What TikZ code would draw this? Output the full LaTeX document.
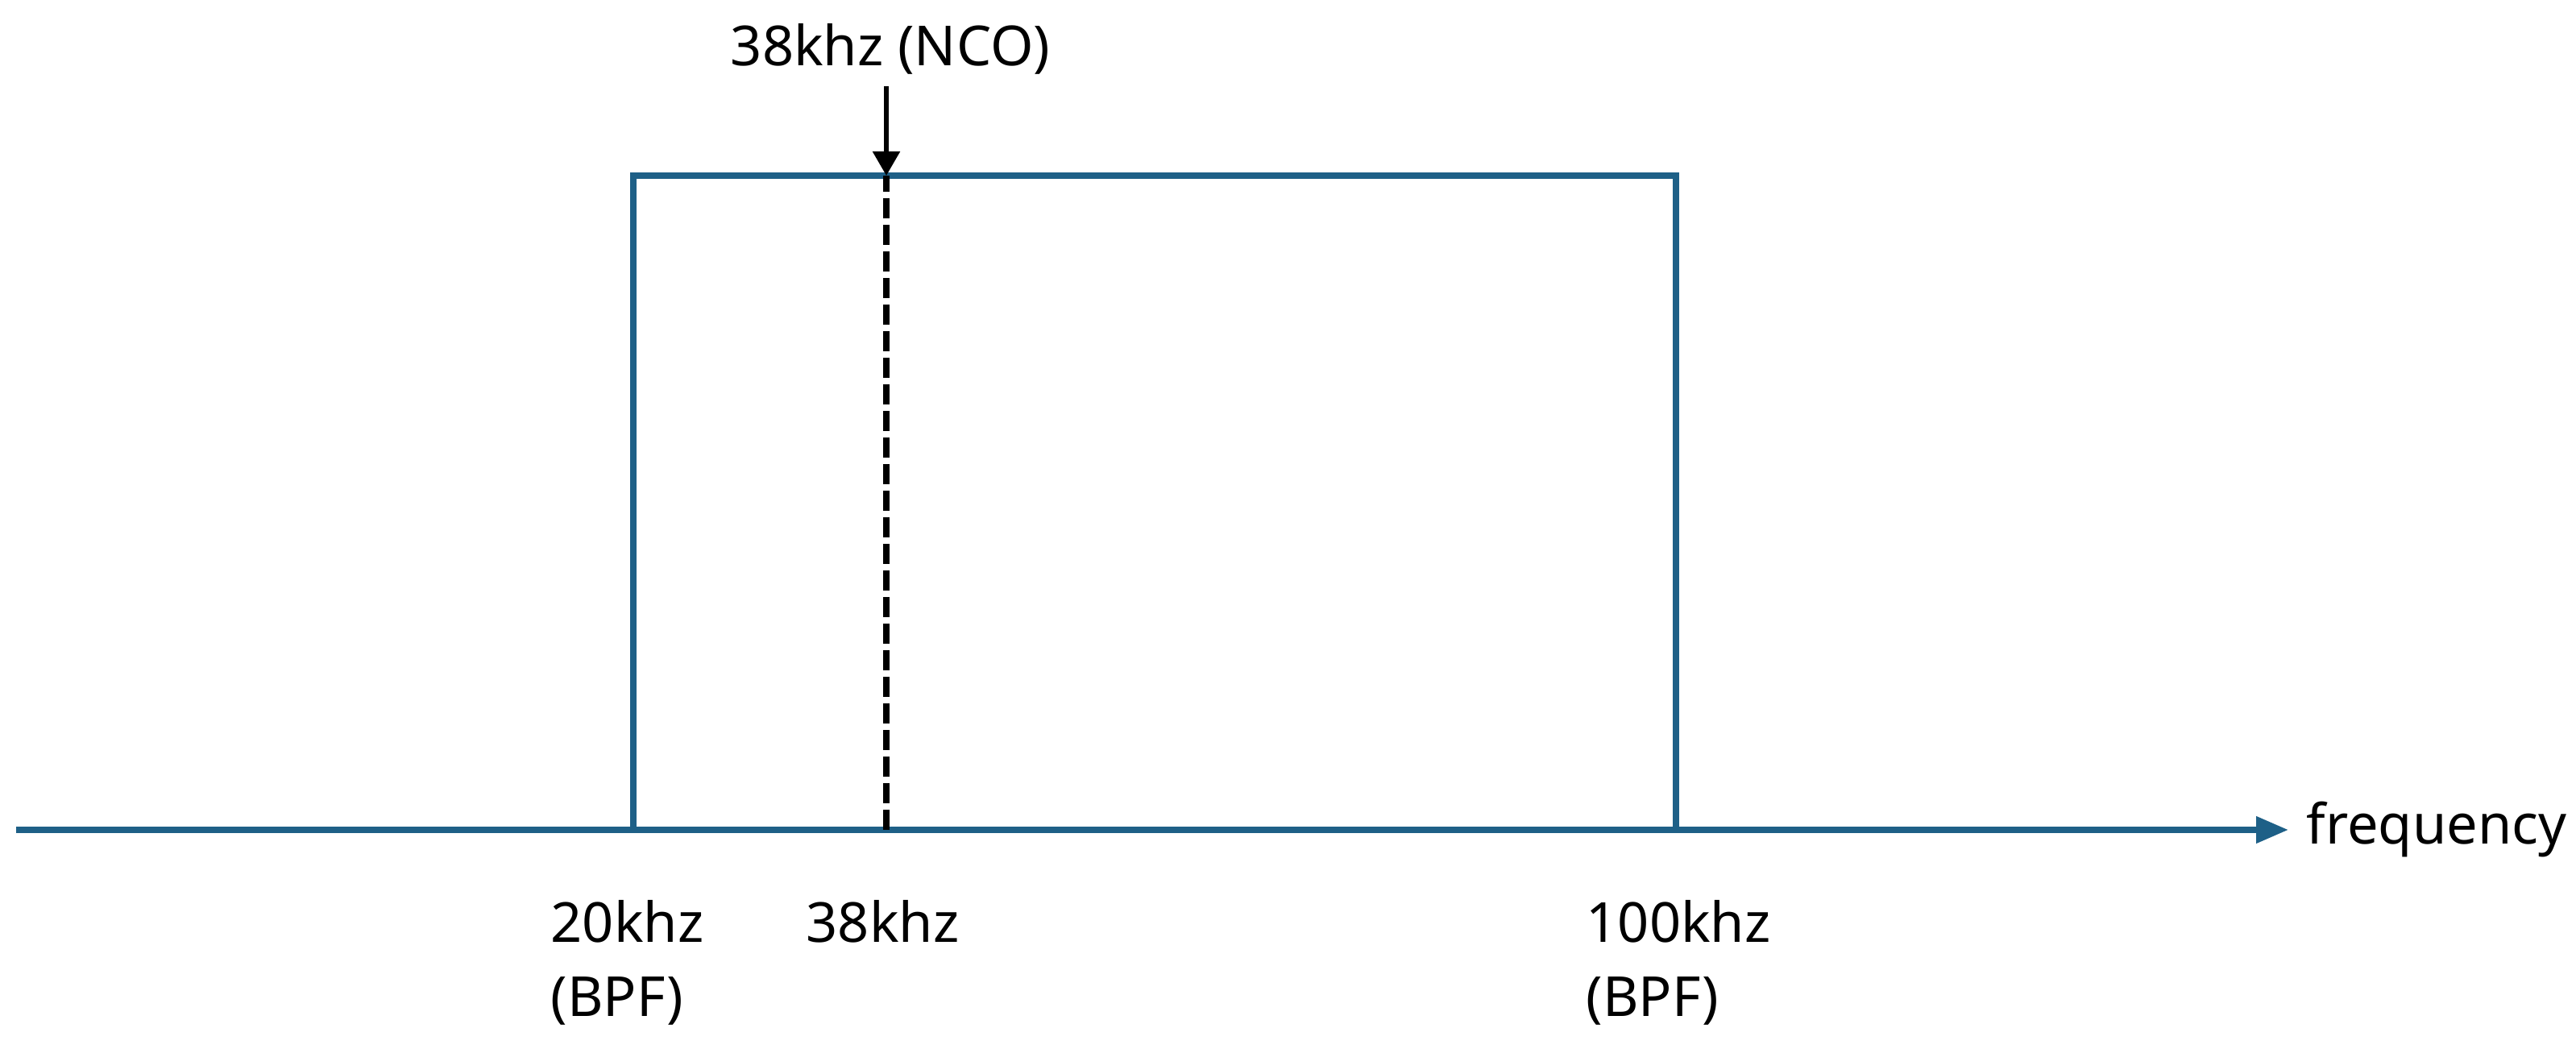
\documentclass[tikz,border=0pt]{standalone}
\usepackage{fontspec}
\setmainfont{Noto Sans}
\usetikzlibrary{positioning,arrows.meta}
\definecolor{bandblue}{RGB}{30,96,135}

\begin{document}
\begin{tikzpicture}[
    band/.style={draw=bandblue, line width=0.075cm},
    lbl/.style={font=\fontsize{19.5}{26}\selectfont, inner sep=0pt, align=left}]
    \useasboundingbox (0,0) rectangle (31.97,13.02);

    % Axis and band corners
    \coordinate (axstart) at (0.20,2.72);
    \coordinate (axend) at (28.40,2.72);
    \coordinate (lowbot) at (7.86,2.72);
    \coordinate (lowtop) at (7.86,10.84);
    \coordinate (hightop) at (20.80,10.84);
    \coordinate (highbot) at (20.80,2.72);
    \coordinate (ncobot) at (11.00,2.72);
    \coordinate (ncotop) at (11.00,10.84);

    % Frequency axis
    \draw[band, -{Triangle[length=0.4cm,width=0.32cm]}] (axstart) -- (axend);
    \node[lbl, anchor=west] (freq) at (28.62,2.72) {frequency};

    % Pass band
    \draw[band] (lowbot) -- (lowtop) -- (hightop) -- (highbot);

    % NCO marker
    \draw[line width=0.08cm, dash pattern=on 0.25cm off 0.08cm] (ncobot) -- (ncotop);
    \node[lbl, anchor=south] (nco) at (11.05,12.09) {38khz (NCO)};
    \draw[line width=0.055cm, -{Triangle[length=0.3cm,width=0.33cm]}, shorten <=0.14cm] (nco.south -| ncotop) -- (ncotop);

    % Labels underneath
    \node[lbl, anchor=north west] (low) at (6.83,1.85) {20khz\\(BPF)};
    \node[lbl, anchor=north west] (mid) at (10.00,1.85) {38khz};
    \node[lbl, anchor=north west] (high) at (19.68,1.85) {100khz\\(BPF)};
\end{tikzpicture}
\end{document}
